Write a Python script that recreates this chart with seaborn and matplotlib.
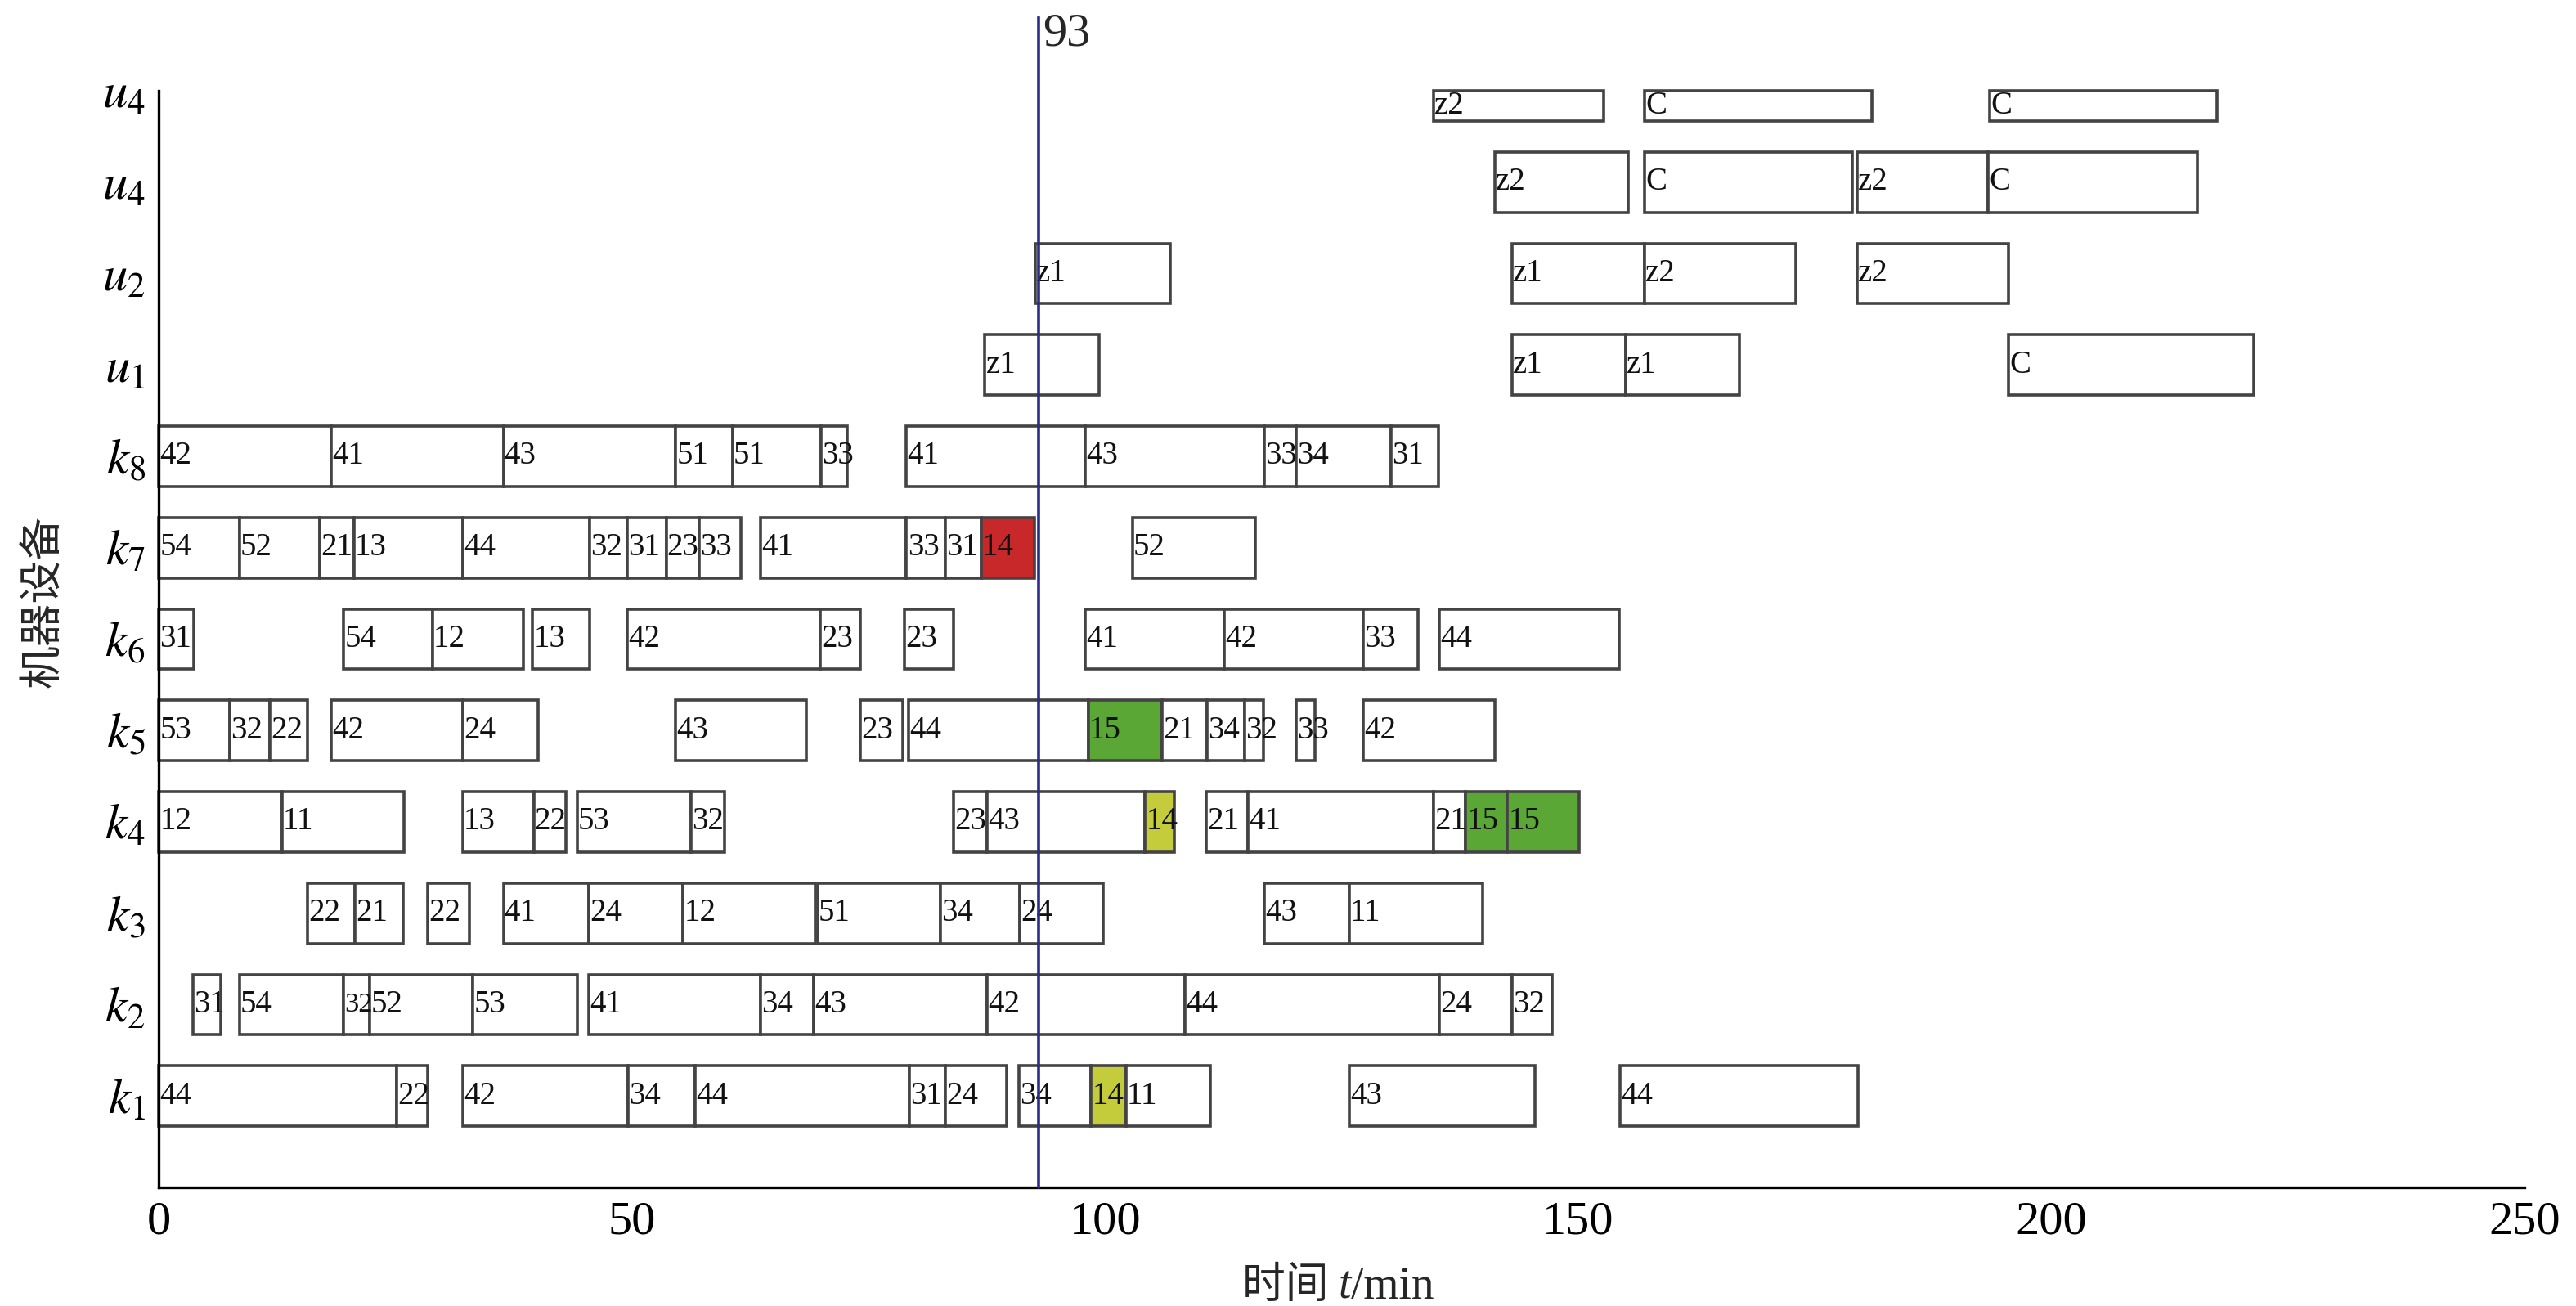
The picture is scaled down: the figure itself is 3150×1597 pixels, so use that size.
import numpy as np
import matplotlib
matplotlib.use('Agg')
import matplotlib.pyplot as plt
import matplotlib.transforms as mtransforms
import seaborn as sns

# machine rows, bottom to top
machines = ['k1', 'k2', 'k3', 'k4', 'k5', 'k6', 'k7', 'k8', 'u1', 'u2', 'u4a', 'u4b']
tick_labels = ['$k_1$', '$k_2$', '$k_3$', '$k_4$', '$k_5$', '$k_6$', '$k_7$', '$k_8$',
               '$u_1$', '$u_2$', '$u_4$', '$u_4$']

# operations on each machine: label, start, end (min)
k1_ops = ['44', '22', '42', '34', '44', '31', '24', '34', '14', '11', '43', '44']
k1_start = [0, 25.1, 32.1, 49.6, 56.7, 79.3, 83.1, 90.9, 98.5, 102.2, 125.8, 154.4]
k1_end = [25.1, 28.4, 49.6, 56.7, 79.3, 83.1, 89.6, 98.5, 102.2, 111.1, 145.4, 179.6]

k2_ops = ['31', '54', '32', '52', '53', '41', '34', '43', '42', '44', '24', '32']
k2_start = [3.6, 8.5, 19.5, 22.3, 33.2, 45.4, 63.6, 69.2, 87.5, 108.4, 135.3, 143.0]
k2_end = [6.5, 19.5, 22.3, 33.2, 44.2, 63.6, 69.2, 87.5, 108.4, 135.3, 143.0, 147.2]

k3_ops = ['22', '21', '22', '41', '24', '12', '51', '34', '24', '43', '11']
k3_start = [15.7, 20.7, 28.4, 36.4, 45.4, 55.4, 69.6, 82.6, 91.0, 116.8, 125.8]
k3_end = [20.7, 25.8, 32.8, 45.4, 55.4, 69.4, 82.6, 91.0, 99.8, 125.8, 139.9]

k4_ops = ['12', '11', '13', '22', '53', '32', '23', '43', '14', '21', '41', '21', '15', '15']
k4_start = [0, 13.0, 32.1, 39.6, 44.2, 56.2, 84.0, 87.5, 104.2, 110.7, 115.1, 134.7, 138.1, 142.5]
k4_end = [13.0, 25.9, 39.6, 43.0, 56.2, 59.8, 87.5, 104.2, 107.3, 115.1, 134.7, 138.1, 142.5, 150.1]

k5_ops = ['53', '32', '22', '42', '24', '43', '23', '44', '15', '21', '34', '32', '33', '42']
k5_start = [0, 7.5, 11.7, 18.2, 32.1, 54.6, 74.1, 79.2, 98.2, 106.0, 110.8, 114.7, 120.2, 127.3]
k5_end = [7.5, 11.7, 15.7, 32.1, 40.1, 68.4, 78.6, 98.2, 106.0, 110.8, 114.7, 116.7, 122.2, 141.2]

k6_ops = ['31', '54', '12', '13', '42', '23', '23', '41', '42', '33', '44']
k6_start = [0, 19.5, 28.9, 39.5, 49.5, 69.9, 78.8, 97.9, 112.6, 127.3, 135.3]
k6_end = [3.7, 28.9, 38.5, 45.5, 69.9, 74.1, 84.0, 112.6, 127.3, 133.1, 154.3]

k7_ops = ['54', '52', '21', '13', '44', '32', '31', '23', '33', '41', '33', '31', '14', '52']
k7_start = [0, 8.5, 17.0, 20.6, 32.1, 45.5, 49.5, 53.6, 57.1, 63.6, 79.0, 83.1, 86.9, 102.9]
k7_end = [8.5, 17.0, 20.6, 32.1, 45.5, 49.5, 53.6, 57.1, 61.5, 79.0, 83.1, 86.9, 92.5, 115.9]

k8_ops = ['42', '41', '43', '51', '51', '33', '41', '43', '33', '34', '31']
k8_start = [0, 18.2, 36.4, 54.6, 60.6, 70.0, 79.0, 97.9, 116.8, 120.2, 130.2]
k8_end = [18.2, 36.4, 54.6, 60.6, 70.0, 72.7, 97.9, 116.8, 120.2, 130.2, 135.2]

u1_ops = ['z1', 'z1', 'z1', 'C']
u1_start = [87.3, 143.0, 155.0, 195.5]
u1_end = [99.4, 155.0, 167.0, 221.4]

u2_ops = ['z1', 'z1', 'z2', 'z2']
u2_start = [92.6, 143.0, 157.0, 179.5]
u2_end = [106.9, 157.0, 173.0, 195.5]

u4a_ops = ['z2', 'C', 'z2', 'C']
u4a_start = [141.2, 157.0, 179.5, 193.3]
u4a_end = [155.3, 179.0, 193.3, 215.4]

u4b_ops = ['z2', 'C', 'C']
u4b_start = [134.7, 157.0, 193.5]
u4b_end = [152.7, 181.0, 217.5]

# special operations: (machine, start) -> state
fault_ops = [('k7', 86.9)]
delayed_ops = [('k4', 104.2), ('k1', 98.5)]
moved_ops = [('k5', 98.2), ('k4', 138.1), ('k4', 142.5)]

fault_time = 93

schedule = {
    'k1': (k1_ops, k1_start, k1_end), 'k2': (k2_ops, k2_start, k2_end),
    'k3': (k3_ops, k3_start, k3_end), 'k4': (k4_ops, k4_start, k4_end),
    'k5': (k5_ops, k5_start, k5_end), 'k6': (k6_ops, k6_start, k6_end),
    'k7': (k7_ops, k7_start, k7_end), 'k8': (k8_ops, k8_start, k8_end),
    'u1': (u1_ops, u1_start, u1_end), 'u2': (u2_ops, u2_start, u2_end),
    'u4a': (u4a_ops, u4a_start, u4a_end), 'u4b': (u4b_ops, u4b_start, u4b_end),
}

sns.set_theme(style='white')
plt.rcParams['font.family'] = ['Liberation Serif', 'Noto Sans CJK SC', 'DejaVu Sans']
plt.rcParams['mathtext.fontset'] = 'stix'

fig = plt.figure(figsize=(15.75, 7.985), dpi=200)
ax = fig.add_axes([0.0617, 0.0908, 0.9183, 0.8397])

bar_h = 0.66
y_top = len(machines)
colours = {'fault': '#c9282b', 'delay': '#c5cc3c', 'moved': '#5ba735', 'normal': 'white'}
label_size = 14
min_per_pt = 0.21   # rough width of a two digit label, in minutes per point

for i, m in enumerate(machines):
    y = i + 1
    ops, st, en = schedule[m]
    st = np.array(st)
    en = np.array(en)
    fc = []
    for s in st:
        if (m, s) in fault_ops:
            fc.append(colours['fault'])
        elif (m, s) in delayed_ops:
            fc.append(colours['delay'])
        elif (m, s) in moved_ops:
            fc.append(colours['moved'])
        else:
            fc.append(colours['normal'])
    # the top row only keeps the half of the bar that is inside the axes
    lo = max(y - bar_h / 2, 0)
    hi = min(y + bar_h / 2, y_top)
    ax.barh((lo + hi) / 2, en - st, left=st, height=hi - lo, color=fc,
            edgecolor='#434343', linewidth=1.3, zorder=2, clip_on=False)
    for j, (lab, s) in enumerate(zip(ops, st)):
        fs = label_size
        if j + 1 < len(st):
            gap = st[j + 1] - s - 0.2
            fs = min(label_size, gap / min_per_pt)
        ax.text(s + 0.1, (lo + hi) / 2, lab, ha='left', va='center', fontsize=fs,
                color='#111111', zorder=3)

ax.set_xlim(0, 250)
ax.set_ylim(0, y_top)
ax.set_xticks([0, 50, 100, 150, 200, 250])
ax.set_yticks(np.arange(1, y_top + 1))
ax.set_yticklabels(tick_labels)
ax.tick_params(axis='both', direction='in', length=4.7, width=1.0, colors='black',
               labelsize=21, pad=6)
ax.tick_params(axis='y', labelsize=22)

sns.despine(ax=ax, top=True, right=True)
for side in ['left', 'bottom']:
    ax.spines[side].set_color('black')
    ax.spines[side].set_linewidth(1.2)

# fault moment line
ax.axvline(fault_time, ymin=0, ymax=1.067, color='#2a2c8c', linewidth=1.3,
           clip_on=False, zorder=4)
trans = mtransforms.blended_transform_factory(ax.transData, ax.transAxes)
ax.text(fault_time + 0.4, 1.071, str(fault_time), transform=trans, ha='left',
        va='top', fontsize=21)

# x label: 时间 t/min with italic t
xl1 = ax.text(0.458, -0.101, '时间 ', transform=ax.transAxes, ha='left',
              va='baseline', fontsize=19, family=['Noto Sans CJK SC'])
xl2 = ax.annotate('t', xy=(1, 0), xycoords=xl1, ha='left', va='bottom',
                  fontsize=20, style='italic', family=['Liberation Serif'])
xl3 = ax.annotate('/min', xy=(1, 0), xycoords=xl2, ha='left', va='bottom',
                  fontsize=20, family=['Liberation Serif'])

ax.set_ylabel('机器设备', fontsize=19)
ax.yaxis.set_label_coords(-0.040, 0.534)

fig.savefig('out.png', dpi=200, facecolor='white')
